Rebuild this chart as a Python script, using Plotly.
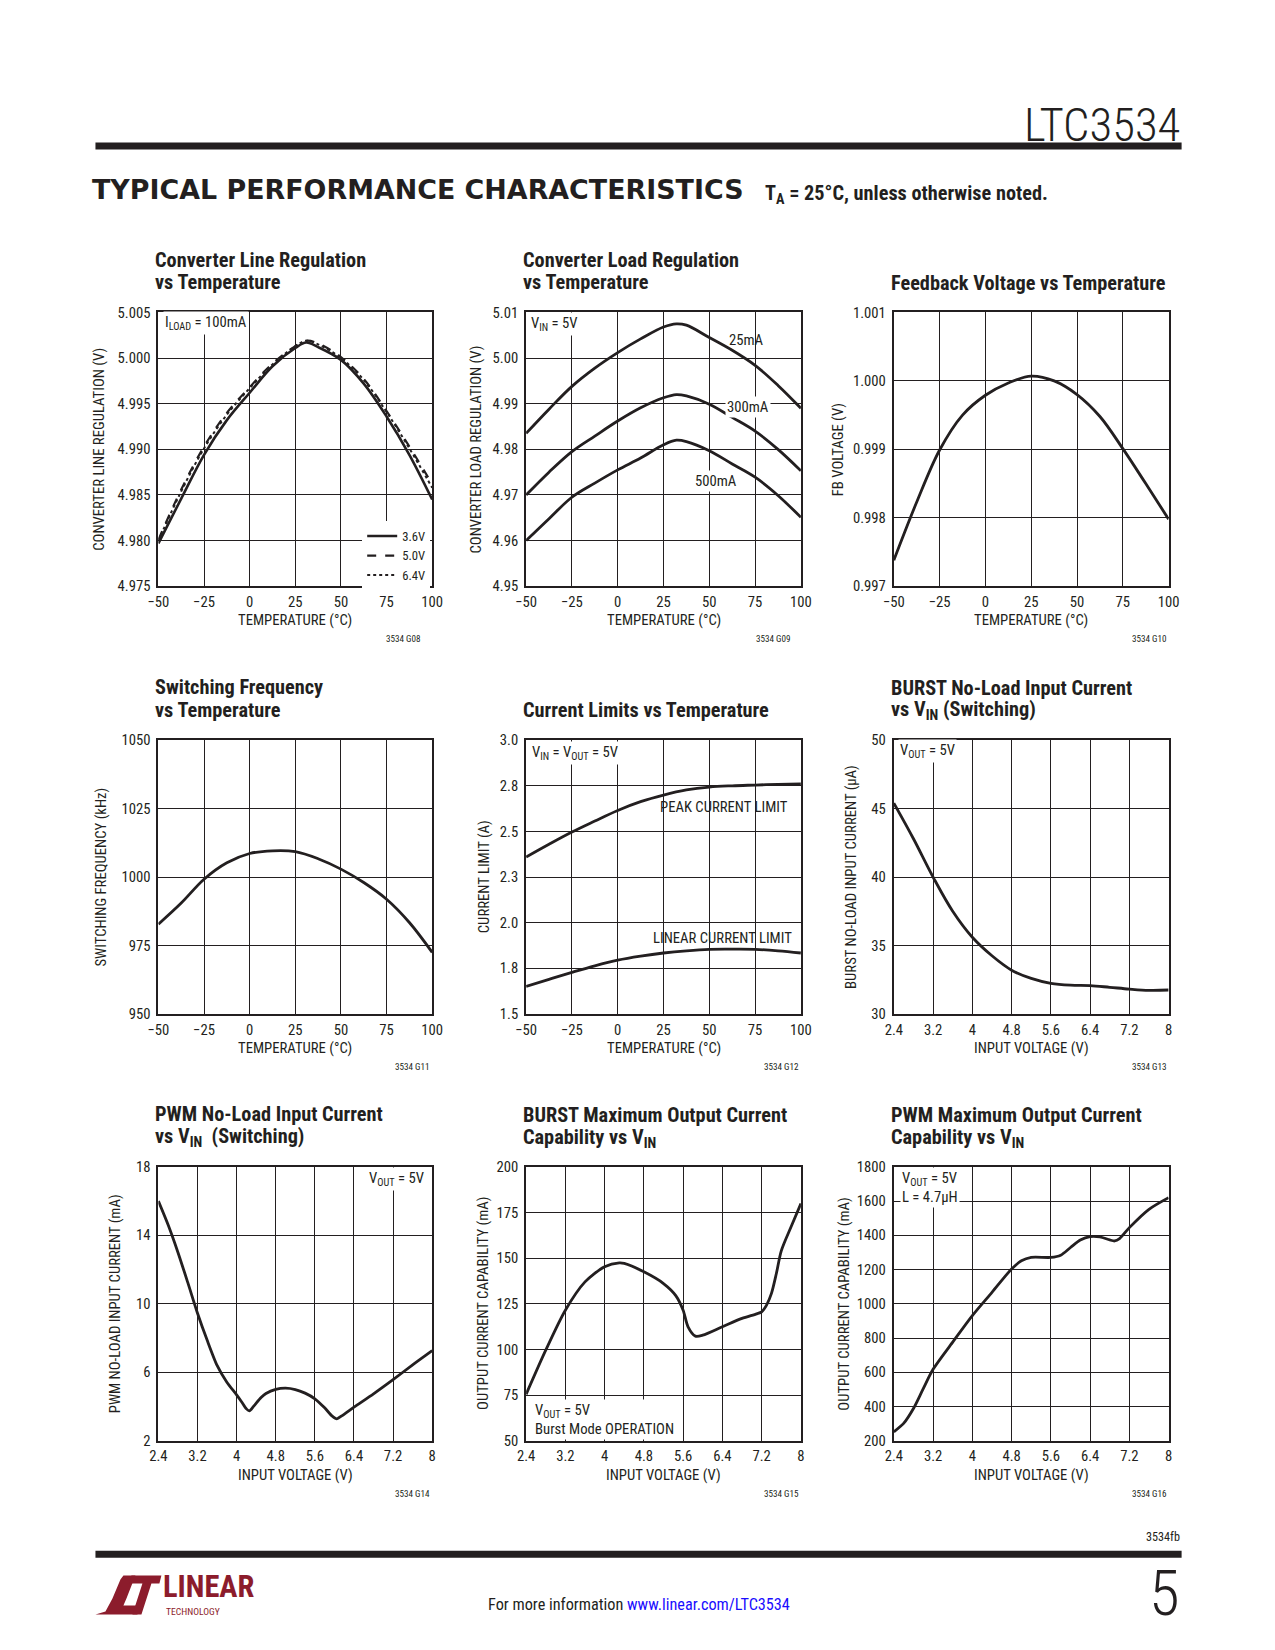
import plotly.graph_objects as go

# Page frame (reference pixels). The figure is drawn 16px smaller than the page
# (html body margin) and positions are calibrated to the photographed page.
OX, OY = 8, 8
FW, FH = 1258, 1633
KX, CX = 1.0170, -9.78
KY, CY = 1.0105, -7.55
FS = 1.015
INK = "#231f20"
RED = "#8c1c2c"
FONT = "Roboto Condensed, Liberation Sans Narrow, Arial Narrow, DejaVu Sans Condensed, sans-serif"

# ---------------- data ----------------
temp_ticks = [-50, -25, 0, 25, 50, 75, 100]
vin_ticks = [2.4, 3.2, 4.0, 4.8, 5.6, 6.4, 7.2, 8.0]
vin_tick_text = ["2.4", "3.2", "4", "4.8", "5.6", "6.4", "7.2", "8"]

# Converter line regulation vs temperature (ILOAD = 100mA)
temp_lr = [-50, -37.5, -25, -12.5, 0, 12.5, 25, 31, 37.5, 50, 62.5, 75, 87.5, 100]
lr_36v = [4.9797, 4.9846, 4.9894, 4.9932, 4.9962, 4.9991, 5.0011, 5.0017, 5.0012, 4.9998, 4.9972, 4.9936, 4.9894, 4.9845]
lr_50v = [4.9801, 4.9856, 4.9903, 4.9940, 4.9968, 4.9994, 5.0013, 5.0019, 5.0016, 5.0001, 4.9977, 4.9942, 4.9903, 4.9862]
lr_64v = [4.9800, 4.9854, 4.9901, 4.9938, 4.9967, 4.9993, 5.0013, 5.0019, 5.0015, 5.0000, 4.9976, 4.9941, 4.9901, 4.9858]
lr_names = ["3.6V", "5.0V", "6.4V"]

# Converter load regulation vs temperature (VIN = 5V)
temp_ld = [-50, -37.5, -25, -12.5, 0, 12.5, 25, 32, 37.5, 50, 62.5, 75, 87.5, 100]
ld_25ma = [4.9835, 4.9888, 4.9938, 4.9978, 5.0012, 5.0042, 5.0068, 5.0075, 5.0072, 5.0045, 5.0017, 4.9984, 4.9940, 4.9890]
ld_300ma = [4.9700, 4.9750, 4.9795, 4.9829, 4.9862, 4.9891, 4.9913, 4.9920, 4.9917, 4.9899, 4.9870, 4.9840, 4.9800, 4.9753]
ld_500ma = [4.9600, 4.9648, 4.9695, 4.9726, 4.9755, 4.9781, 4.9810, 4.9820, 4.9817, 4.9797, 4.9768, 4.9739, 4.9699, 4.9651]

# Feedback voltage, switching frequency, current limits vs temperature
temp = [-50, -37.5, -25, -12.5, 0, 12.5, 25, 37.5, 50, 62.5, 75, 87.5, 100]
fb_v = [0.99738, 0.99823, 0.99899, 0.99950, 0.99979, 0.99997, 1.00007, 1.00000, 0.99980, 0.99948, 0.99901, 0.99850, 0.99798]
sw_khz = [982.8, 990.5, 999.2, 1005.2, 1008.6, 1009.6, 1009.3, 1006.7, 1002.9, 998.0, 991.9, 983.4, 972.5]
peak_lim = [2.360, 2.430, 2.497, 2.557, 2.615, 2.663, 2.699, 2.727, 2.743, 2.750, 2.754, 2.758, 2.761]
linear_lim = [1.651, 1.690, 1.728, 1.764, 1.795, 1.817, 1.834, 1.846, 1.854, 1.855, 1.854, 1.846, 1.834]
cl_ticks = [1.5, 1.75, 2.0, 2.25, 2.5, 2.75, 3.0]
cl_tick_text = ["1.5", "1.8", "2.0", "2.3", "2.5", "2.8", "3.0"]

# BURST no-load input current vs VIN
vin_b = [2.4, 2.8, 3.2, 3.6, 4.0, 4.4, 4.8, 5.2, 5.6, 6.0, 6.4, 6.8, 7.2, 7.6, 8.0]
burst_iq = [45.4, 42.8, 40.0, 37.5, 35.6, 34.25, 33.2, 32.6, 32.24, 32.1, 32.07, 31.95, 31.82, 31.73, 31.75]

# PWM no-load input current vs VIN
vin_p = [2.4, 2.6, 2.8, 3.0, 3.2, 3.4, 3.6, 3.8, 4.0, 4.1, 4.2, 4.26, 4.35, 4.5, 4.6, 4.8, 5.0, 5.2, 5.4, 5.6, 5.8, 5.95, 6.05, 6.15, 6.4, 6.8, 7.2, 7.6, 8.0]
pwm_iq = [16.0, 14.6, 13.0, 11.25, 9.45, 7.85, 6.4, 5.42, 4.68, 4.28, 3.86, 3.74, 4.02, 4.52, 4.76, 5.0, 5.07, 4.99, 4.78, 4.45, 3.92, 3.45, 3.28, 3.45, 3.96, 4.74, 5.57, 6.43, 7.26]

# BURST maximum output current vs VIN
vin_bm = [2.4, 2.8, 3.2, 3.6, 4.0, 4.3, 4.4, 4.8, 5.2, 5.45, 5.6, 5.7, 5.85, 6.0, 6.4, 6.8, 7.1, 7.2, 7.3, 7.4, 7.5, 7.6, 7.8, 8.0]
burst_max = [75.4, 99.6, 121.5, 137.0, 145.3, 147.4, 147.1, 142.5, 136.1, 129.5, 121.5, 112.4, 107.3, 107.8, 112.4, 117.0, 119.5, 120.6, 124.3, 130.7, 141.6, 154.0, 167.2, 179.9]

# PWM maximum output current vs VIN
vin_pm = [2.4, 2.6, 2.8, 3.0, 3.2, 3.6, 4.0, 4.4, 4.8, 5.0, 5.2, 5.6, 5.8, 6.0, 6.2, 6.4, 6.6, 6.8, 6.9, 7.0, 7.2, 7.6, 8.0]
pwm_max = [252, 301, 388, 504, 617, 776, 931, 1067, 1203, 1251, 1271, 1271, 1284, 1329, 1373, 1393, 1391, 1373, 1367, 1381, 1445, 1552, 1620]

# ---------------- geometry ----------------
COLS = [(157, 431), (525, 800), (893, 1168)]
ROWS = [(311, 585), (739, 1013), (1166, 1440)]


def px(x):
    return (KX * x + CX - OX) / FW


def py(y):
    return 1 - (KY * y + CY - OY) / FH


def fs(s):
    return s * FS


fig = go.Figure()

panels = [
    (0, 0, [-50, 100], [4.975, 5.005], temp_ticks, None, [4.975, 4.980, 4.985, 4.990, 4.995, 5.000, 5.005], None, ".3f"),
    (0, 1, [-50, 100], [4.95, 5.01], temp_ticks, None, [4.95, 4.96, 4.97, 4.98, 4.99, 5.00, 5.01], None, ".2f"),
    (0, 2, [-50, 100], [0.997, 1.001], temp_ticks, None, [0.997, 0.998, 0.999, 1.000, 1.001], None, ".3f"),
    (1, 0, [-50, 100], [950, 1050], temp_ticks, None, [950, 975, 1000, 1025, 1050], None, "d"),
    (1, 1, [-50, 100], [1.5, 3.0], temp_ticks, None, cl_ticks, cl_tick_text, None),
    (1, 2, [2.4, 8.0], [30, 50], vin_ticks, vin_tick_text, [30, 35, 40, 45, 50], None, "d"),
    (2, 0, [2.4, 8.0], [2, 18], vin_ticks, vin_tick_text, [2, 6, 10, 14, 18], None, "d"),
    (2, 1, [2.4, 8.0], [50, 200], vin_ticks, vin_tick_text, [50, 75, 100, 125, 150, 175, 200], None, "d"),
    (2, 2, [2.4, 8.0], [200, 1800], vin_ticks, vin_tick_text, [200, 400, 600, 800, 1000, 1200, 1400, 1600, 1800], None, "d"),
]

layout = dict(
    width=FW, height=FH, margin=dict(l=0, r=0, t=0, b=0),
    paper_bgcolor="white", plot_bgcolor="white",
    font=dict(family=FONT, color=INK, size=fs(14)),
    showlegend=True,
)

for i, (r, c, xr, yr, xt, xtt, yt, ytt, yfmt) in enumerate(panels, start=1):
    x0, x1 = COLS[c]
    y0, y1 = ROWS[r]
    sfx = "" if i == 1 else str(i)
    xa = dict(domain=[px(x0), px(x1)], range=xr, anchor="y" + sfx,
              showline=True, linecolor=INK, linewidth=2, mirror=True,
              showgrid=True, gridcolor=INK, gridwidth=1, zeroline=False,
              ticks="outside", ticklen=1, tickcolor="rgba(0,0,0,0)",
              tickfont=dict(size=fs(14.5), family=FONT, color=INK),
              tickmode="array", tickvals=xt, fixedrange=True)
    if xtt is not None:
        xa["ticktext"] = xtt
    ya = dict(domain=[py(y1), py(y0)], range=yr, anchor="x" + sfx,
              showline=True, linecolor=INK, linewidth=2, mirror=True,
              showgrid=True, gridcolor=INK, gridwidth=1, zeroline=False,
              ticks="outside", ticklen=3, tickcolor="rgba(0,0,0,0)",
              tickfont=dict(size=fs(14.5), family=FONT, color=INK),
              tickmode="array", tickvals=yt, fixedrange=True)
    if ytt is not None:
        ya["ticktext"] = ytt
    if yfmt:
        ya["tickformat"] = yfmt
    layout["xaxis" + sfx] = xa
    layout["yaxis" + sfx] = ya


def add_line(x, y, panel, name=None, dash="solid", width=2.8, legend=False, smoothing=1.0):
    sfx = "" if panel == 1 else str(panel)
    fig.add_trace(go.Scatter(
        x=x, y=y, mode="lines", name=name, xaxis="x" + sfx, yaxis="y" + sfx,
        line=dict(color=INK, width=width, dash=dash, shape="spline", smoothing=smoothing),
        showlegend=legend, hoverinfo="skip"))


add_line(temp_lr, lr_36v, 1, lr_names[0], "solid", 2.6, True)
add_line(temp_lr, lr_50v, 1, lr_names[1], "dash", 2.2, True)
add_line(temp_lr, lr_64v, 1, lr_names[2], "dot", 2.0, True)
add_line(temp_ld, ld_25ma, 2)
add_line(temp_ld, ld_300ma, 2)
add_line(temp_ld, ld_500ma, 2)
add_line(temp, fb_v, 3)
add_line(temp, sw_khz, 4)
add_line(temp, peak_lim, 5)
add_line(temp, linear_lim, 5)
add_line(vin_b, burst_iq, 6)
add_line(vin_p, pwm_iq, 7, smoothing=0.7)
add_line(vin_bm, burst_max, 8, smoothing=0.8)
add_line(vin_pm, pwm_max, 9, smoothing=0.8)

layout["legend"] = dict(
    x=px(429), y=py(520), xanchor="right", yanchor="top",
    bgcolor="white", borderwidth=0, itemwidth=30,
    font=dict(size=fs(12.5), family=FONT, color=INK), tracegroupgap=0,
    itemclick=False, itemdoubleclick=False,
)

ann = []


def note(text, x, y, xanchor="left", yanchor="middle", size=14, bg=None, bold=False, align="left",
         angle=0, color=INK, family=FONT, weight=None):
    f = dict(size=fs(size), family=family, color=color)
    if weight is not None:
        f["weight"] = weight
    d = dict(text=("<b>%s</b>" % text) if bold else text, x=px(x), y=py(y), xref="paper", yref="paper",
             xanchor=xanchor, yanchor=yanchor, showarrow=False, align=align, textangle=angle,
             font=f, borderpad=1)
    if bg:
        d["bgcolor"] = bg
    ann.append(d)


# chart titles: one entry per line, with the line's vertical centre
titles = [
    ["Converter Line Regulation", "vs Temperature"],
    ["Converter Load Regulation", "vs Temperature"],
    ["Feedback Voltage vs Temperature"],
    ["Switching Frequency", "vs Temperature"],
    ["Current Limits vs Temperature"],
    ["BURST No-Load Input Current", "vs V<sub>IN</sub> (Switching)"],
    ["PWM No-Load Input Current", "vs V<sub>IN</sub>  (Switching)"],
    ["BURST Maximum Output Current", "Capability vs V<sub>IN</sub>"],
    ["PWM Maximum Output Current", "Capability vs V<sub>IN</sub>"],
]
title_y = [[259, 281], [259, 281], [282], [686, 709], [709], [687, 709], [1113, 1136], [1114, 1137], [1114, 1137]]
ytitles = [
    "CONVERTER LINE REGULATION (V)", "CONVERTER LOAD REGULATION (V)", "FB VOLTAGE (V)",
    "SWITCHING FREQUENCY (kHz)", "CURRENT LIMIT (A)", "BURST NO-LOAD INPUT CURRENT (µA)",
    "PWM NO-LOAD INPUT CURRENT (mA)", "OUTPUT CURRENT CAPABILITY (mA)", "OUTPUT CURRENT CAPABILITY (mA)",
]
ytitle_x = [98, 475, 837, 100, 483, 850, 113, 482, 843]
xtitles = ["TEMPERATURE (°C)"] * 5 + ["INPUT VOLTAGE (V)"] * 4
codes = ["3534 G08", "3534 G09", "3534 G10", "3534 G11", "3534 G12", "3534 G13", "3534 G14", "3534 G15", "3534 G16"]
code_dx = [-9, -8, 0, 0, 0, 0, 0, 0, 0]

for i in range(9):
    r, c = divmod(i, 3)
    x0, x1 = COLS[c]
    y0, y1 = ROWS[r]
    for line, ly in zip(titles[i], title_y[i]):
        note(line, x0 - 5, ly, "left", "middle", size=20, bold=True)
    note(ytitles[i], ytitle_x[i], (y0 + y1) / 2, "center", "middle", size=14.5, angle=-90)
    note(xtitles[i], (x0 + x1) / 2, y1 + 34, "center", "middle", size=14.5)
    note(codes[i], x1 + code_dx[i], y1 + 53, "right", "middle", size=9)

# in-plot labels
note("I<sub>LOAD</sub> = 100mA", 162, 322, size=14.5, bg="white")
note("V<sub>IN</sub> = 5V", 528, 323, size=14.5, bg="white")
note("25mA", 746, 339, "center", size=14.5)
note("300mA", 747, 406, "center", size=14.5, bg="white")
note("500mA", 715, 480, "center", size=14.5, bg="white")
note("V<sub>IN</sub> = V<sub>OUT</sub> = 5V", 529, 752, size=14.5, bg="white")
note("PEAK CURRENT LIMIT", 723, 806, "center", size=14.5)
note("LINEAR CURRENT LIMIT", 722, 937, "center", size=14.5)
note("V<sub>OUT</sub> = 5V", 897, 750, size=14.5, bg="white")
note("V<sub>OUT</sub> = 5V", 425, 1178, "right", size=14.5, bg="white")
note("V<sub>OUT</sub> = 5V<br>Burst Mode OPERATION", 532, 1419, size=14.5, bg="white")
note("V<sub>OUT</sub> = 5V<br>L = 4.7µH", 899, 1187, size=14.5, bg="white")

# page header / footer
note("LTC3534", 1181, 123, "right", "middle", size=46, weight=300, family="Roboto Condensed, Roboto, sans-serif")
note("TYPICAL PERFORMANCE CHARACTERISTICS", 89, 188, "left", "middle", size=26.5, bold=True,
     family="DejaVu Sans, Verdana, sans-serif")
note("T<sub>A</sub> = 25°C, unless otherwise noted.", 762, 193, "left", "middle", size=20, bold=True)
note("3534fb", 1181, 1536, "right", "middle", size=12)
note("5", 1181, 1593, "right", "middle", size=62, weight=300, family="Roboto Condensed, Roboto, sans-serif")
note("For more information <span style='color:#1a0dff'>www.linear.com/LTC3534</span>", 638, 1604,
     "center", "middle", size=16)
note("<b>LINEAR</b>", 160, 1586, "left", "middle", size=30, color=RED)
note("TECHNOLOGY", 163, 1611, "left", "middle", size=9.5, color=RED)

layout["annotations"] = ann

shapes = [
    dict(type="rect", xref="paper", yref="paper", x0=px(94), x1=px(1181), y0=py(148), y1=py(141),
         fillcolor=INK, line=dict(width=0)),
    dict(type="rect", xref="paper", yref="paper", x0=px(94), x1=px(1181), y0=py(1557), y1=py(1550),
         fillcolor=INK, line=dict(width=0)),
]


def pth(points):
    return "M " + " L ".join("%.5f,%.5f" % (px(a), py(b)) for a, b in points) + " Z"


# LT logo mark (decorative)
shapes.append(dict(type="path", xref="paper", yref="paper", fillcolor=RED, line=dict(width=0),
                   path=pth([(94, 1614), (104, 1611), (111, 1598), (119, 1579), (122, 1575), (134, 1575),
                             (125, 1598), (122, 1605), (139, 1605), (136, 1614)])))
shapes.append(dict(type="path", xref="paper", yref="paper", fillcolor=RED, line=dict(width=0),
                   path=pth([(130, 1575), (160, 1575), (158, 1583), (150, 1583), (140, 1614), (131, 1614),
                             (141, 1583), (128, 1583)])))
layout["shapes"] = shapes

fig.update_layout(**layout)
fig.write_html("out.html", config={"displayModeBar": False, "staticPlot": True})
